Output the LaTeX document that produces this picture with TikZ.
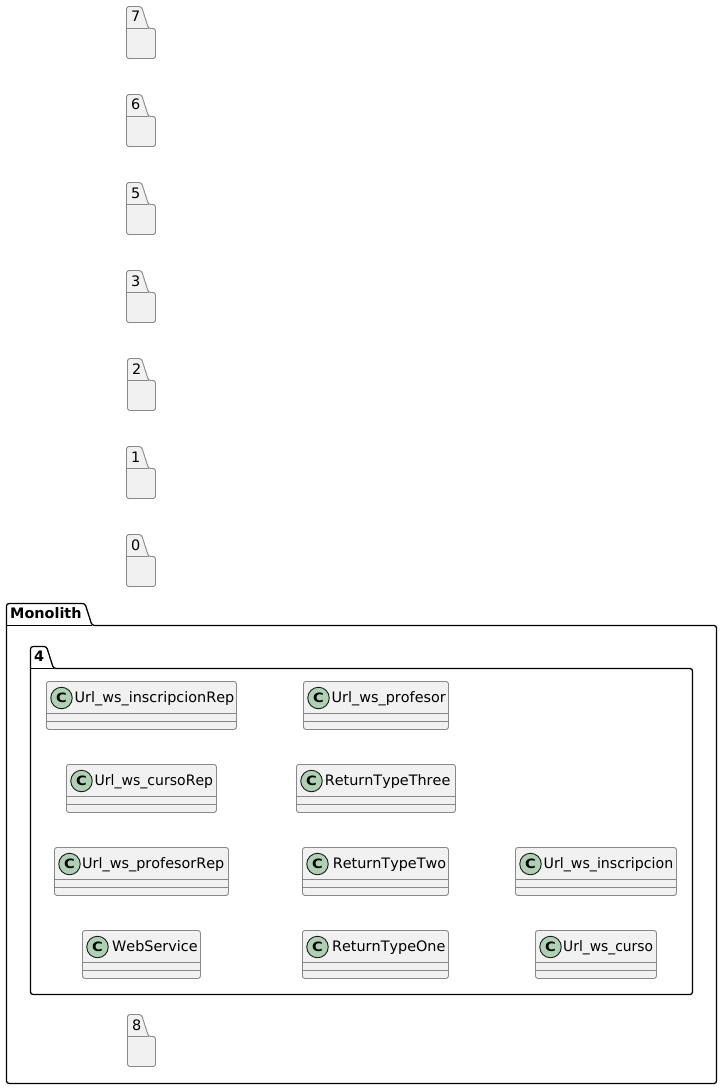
\documentclass[tikz,border=0pt]{standalone}
\usepackage{graphicx}
\usepackage{fontspec}
\setmainfont[Kerning=Off]{DejaVu Sans}
\definecolor{pbg}{HTML}{F1F1F1}
\definecolor{pline}{HTML}{888888}
\definecolor{cbg}{HTML}{ADD1B2}
\definecolor{cline}{HTML}{181818}
\tikzset{
  x=1pt,y=-1pt,
  pkgsmall/.style={draw=pline,fill=pbg,line width=0.9pt,rounded corners=2.5pt},
  pkgbig/.style={draw=black,fill=white,line width=1.3pt,rounded corners=2.5pt},
  pkglabel/.style={anchor=base west,inner sep=0pt,font=\fontsize{14.4}{16}\selectfont},
  pkgbold/.style={anchor=base west,inner sep=0pt,font=\fontsize{14.4}{16}\selectfont\bfseries},
  classbox/.style={draw=pline,fill=pbg,line width=0.9pt,rounded corners=2.5pt,inner sep=0pt},
  classline/.style={draw=pline,line width=0.9pt},
  classicon/.style={circle,draw=cline,fill=cbg,line width=0.9pt,minimum size=21.5pt,inner sep=0pt,font=\fontsize{13.5}{13}\selectfont\bfseries},
  classtext/.style={anchor=base west,inner sep=0pt,font=\fontsize{14.4}{16}\selectfont},
}
% name, left, right, top, label
\newcommand{\smallpkg}[5]{%
  \path[pkgsmall] (#2,#4+22) -- (#2,#4) -- (#3-14,#4) -- (#3-7,#4+22) -- (#3,#4+22) -- (#3,#4+52) -- (#2,#4+52) -- cycle;
  \draw[pline,line width=0.9pt] (#2,#4+22) -- (#3-7,#4+22);
  \node[pkglabel] (#1) at (#2+4.5,#4+15.5) {#5};
}
% name,left,right,y-top,text-x,text
\newcommand{\classnode}[6]{%
  \node[classbox,minimum width=#3pt-#2pt,minimum height=48pt,anchor=north west] (#1) at (#2-0.5,#4-0.5) {};
  \draw[classline] (#2-0.5,#4+31.5) -- (#3-0.5,#4+31.5) (#2-0.5,#4+39.5) -- (#3-0.5,#4+39.5);
  \node[classicon] (#1icon) at (#2+15,#4+16.5) {\scalebox{1.08}[0.95]{C}};
  \node[classtext] (#1text) at (#5,#4+20.5) {#6};
}
\begin{document}
\begin{tikzpicture}
\useasboundingbox (0,0) rectangle (722,1089);
\smallpkg{p7}{126.5}{155.5}{6.5}{7}
\smallpkg{p6}{126.5}{155.5}{94.5}{6}
\smallpkg{p5}{126.5}{155.5}{182.5}{5}
\smallpkg{p3}{126.5}{155.5}{270.5}{3}
\smallpkg{p2}{127.5}{155.5}{358.5}{2}
\smallpkg{p1}{126.5}{155.5}{446.5}{1}
\smallpkg{p0}{126.5}{155.5}{534.5}{0}
% Monolith
\path[pkgbig] (6.5,625.5) -- (6.5,603.5) -- (85,603.5) -- (92,625.5) -- (716.5,625.5) -- (716.5,1083.5) -- (6.5,1083.5) -- cycle;
\draw[black,line width=1.3pt] (6.5,625.5) -- (92,625.5);
\node[pkgbold] (monolith) at (10,618) {Monolith};
% 4
\path[pkgbig] (30.5,668.5) -- (30.5,646.5) -- (46.5,646.5) -- (53.5,668.5) -- (692.5,668.5) -- (692.5,994.5) -- (30.5,994.5) -- cycle;
\draw[black,line width=1.3pt] (30.5,668.5) -- (53.5,668.5);
\node[pkgbold] (four) at (34,661) {4};
\classnode{a}{46.5}{236.5}{681.5}{74.5}{Url\_ws\_inscripcionRep}
\classnode{b}{303.5}{448.5}{681.5}{331.5}{Url\_ws\_profesor}
\classnode{c}{66.5}{216.5}{764.5}{94.5}{\scalebox{0.975}[1]{Url\_ws\_cursoRep}}
\classnode{d}{296.5}{455.5}{764.5}{324.6}{ReturnTypeThree}
\classnode{e}{54.5}{228.5}{847.5}{82}{Url\_ws\_profesorRep}
\classnode{f}{302.5}{448.5}{847.5}{332.6}{ReturnTypeTwo}
\classnode{g}{515.5}{676.5}{847.5}{543.5}{\scalebox{0.985}[1]{Url\_ws\_inscripcion}}
\classnode{h}{82.5}{200.5}{930.5}{112}{WebService}
\classnode{i}{302.5}{448.5}{930.5}{331.9}{ReturnTypeOne}
\classnode{j}{535.5}{656.5}{930.5}{563}{\scalebox{0.962}[1]{Url\_ws\_curso}}
\smallpkg{p8}{127.5}{155.5}{1014.5}{8}
\end{tikzpicture}
\end{document}
